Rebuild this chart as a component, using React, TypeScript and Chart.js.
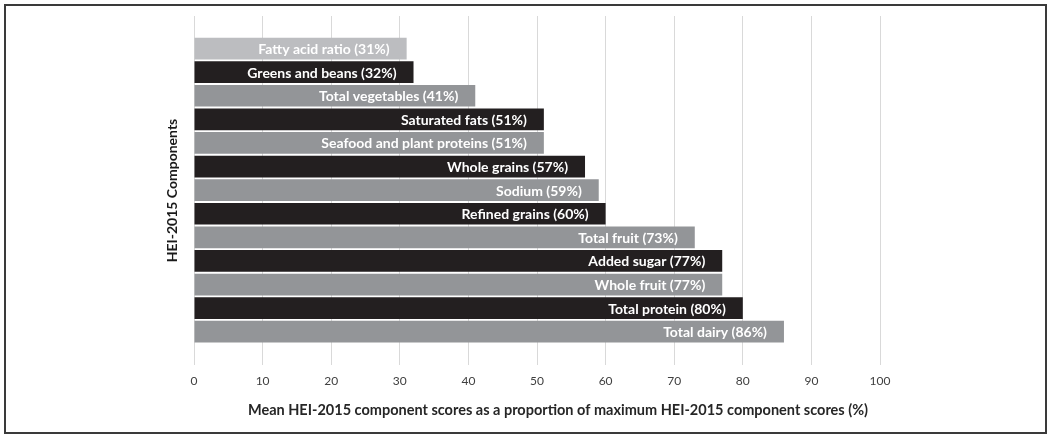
import React, { useEffect, useRef } from "react";
import { Chart, registerables } from "chart.js";

Chart.register(...registerables);

const categories = [
  "Fatty acid ratio",
  "Greens and beans",
  "Total vegetables",
  "Saturated fats",
  "Seafood and plant proteins",
  "Whole grains",
  "Sodium",
  "Refined grains",
  "Total fruit",
  "Added sugar",
  "Whole fruit",
  "Total protein",
  "Total dairy",
];

const scores = [31, 32, 41, 51, 51, 57, 59, 60, 73, 77, 77, 80, 86];

const xTicks = [0, 10, 20, 30, 40, 50, 60, 70, 80, 90, 100];

const yTitle = "HEI-2015 Components";
const xTitle =
  "Mean HEI-2015 component scores as a proportion of maximum HEI-2015 component scores (%)";

const LIGHT = "#bcbdc0";
const DARK = "#231f20";
const GREY = "#939598";
const FONT = "Lato, 'Open Sans', sans-serif";

const barLabelPlugin = {
  id: "barLabels",
  afterDatasetsDraw(chart: any) {
    const ctx = chart.ctx;
    const meta = chart.getDatasetMeta(0);
    ctx.save();
    ctx.font = `bold 14px ${FONT}`;
    ctx.fillStyle = "#ffffff";
    ctx.textAlign = "right";
    ctx.textBaseline = "middle";
    meta.data.forEach((bar: any, i: number) => {
      const text = `${categories[i]} (${scores[i]}%)`;
      ctx.fillText(text, bar.x - 17, bar.y + 1);
    });
    ctx.restore();
  },
};

const xTitlePlugin = {
  id: "xTitleOffset",
  afterDraw(chart: any) {
    const ctx = chart.ctx;
    const area = chart.chartArea;
    ctx.save();
    ctx.font = `bold 14.5px ${FONT}`;
    ctx.fillStyle = "#262626";
    ctx.textAlign = "center";
    ctx.textBaseline = "middle";
    ctx.fillText(xTitle, (area.left + area.right) / 2 + 21, area.bottom + 45);
    ctx.restore();
  },
};

export default function App() {
  const canvasRef = useRef<HTMLCanvasElement | null>(null);

  useEffect(() => {
    if (!canvasRef.current) return;
    Chart.defaults.font.family = FONT;
    const chart = new Chart(canvasRef.current, {
      type: "bar",
      data: {
        datasets: [
          {
            data: scores.map((v, i) => ({ x: v, y: i })),
            backgroundColor: (c: any) =>
              c.dataIndex === 0 ? LIGHT : c.dataIndex % 2 === 1 ? DARK : GREY,
            borderWidth: 0,
            categoryPercentage: 1,
            barPercentage: 0.92,
          },
        ],
      },
      options: {
        indexAxis: "y",
        animation: false,
        responsive: false,
        maintainAspectRatio: false,
        devicePixelRatio: 1,
        layout: { padding: { left: 164, right: 170, top: 16, bottom: 43 } },
        plugins: {
          legend: { display: false },
          tooltip: { enabled: false },
        },
        scales: {
          x: {
            type: "linear",
            min: 0,
            max: 100,
            afterBuildTicks: (s: any) => {
              s.ticks = xTicks.map((v) => ({ value: v }));
            },
            afterFit: (s: any) => {
              s.height = 30;
            },
            grid: { color: "#d9d9d9", lineWidth: 1, drawTicks: false },
            border: { display: false },
            ticks: {
              padding: 9,
              color: "#404040",
              font: { size: 12, family: FONT },
            },
            title: { display: false },
          },
          y: {
            type: "linear",
            reverse: true,
            offset: false,
            min: -1.38,
            max: 13.41,
            afterFit: (s: any) => {
              s.width = 30;
            },
            grid: { display: false, offset: false },
            border: { display: false },
            ticks: { display: false },
            title: {
              display: true,
              text: yTitle,
              color: "#1a1a1a",
              font: { size: 14, weight: "bold", family: FONT },
              padding: { top: 0, bottom: 0 },
            },
          },
        },
      },
      plugins: [barLabelPlugin, xTitlePlugin],
    });
    return () => chart.destroy();
  }, []);

  return (
    <div
      style={{
        position: "absolute",
        left: 0,
        top: 0,
        width: 1050,
        height: 438,
        background: "#ffffff",
      }}
    >
      <div
        style={{
          position: "absolute",
          left: 4,
          top: 4,
          width: 1043,
          height: 430,
          boxSizing: "border-box",
          border: "2px solid #3a3a3a",
        }}
      />
      <canvas
        ref={canvasRef}
        width={1050}
        height={438}
        style={{ position: "absolute", left: 0, top: 0 }}
      />
    </div>
  );
}
